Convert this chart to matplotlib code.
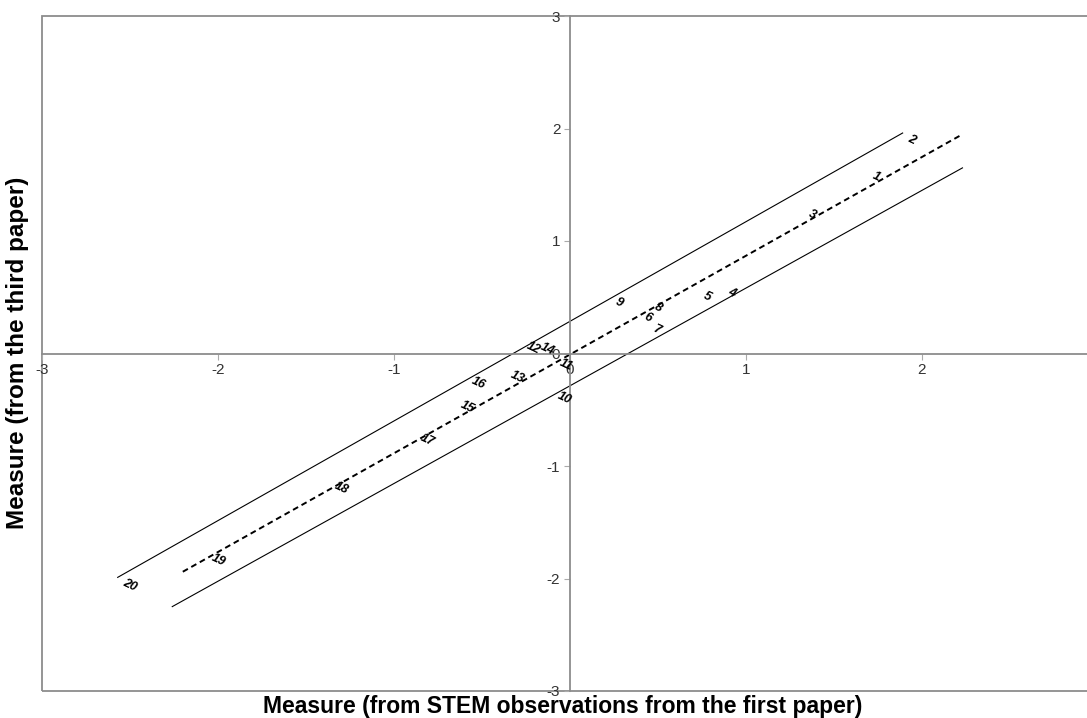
import numpy as np
import matplotlib
matplotlib.use("Agg")
import matplotlib.pyplot as plt
from matplotlib.patches import Rectangle

# item measures: x = first paper (STEM observations), y = third paper
item_ids = [str(i) for i in range(1, 21)]
x_first = [1.74, 1.94, 1.375, 0.92, 0.78, 0.44, 0.49, 0.50, 0.28, -0.03,
           -0.02, -0.21, -0.30, -0.13, -0.585, -0.52, -0.81, -1.30, -2.0, -2.5]
y_third = [1.57, 1.90, 1.23, 0.54, 0.50, 0.32, 0.21, 0.41, 0.45, -0.40,
           -0.10, 0.05, -0.21, 0.04, -0.48, -0.26, -0.77, -1.20, -1.84, -2.06]

# identity (dashed) and control lines
ident_x = [-2.2, 2.22]
ident_y = [-1.94, 1.94]
upper_x = [-2.57, 1.89]
upper_y = [-1.99, 1.96]
lower_x = [-2.26, 2.23]
lower_y = [-2.25, 1.65]

ticks = [-3, -2, -1, 0, 1, 2, 3]
xtick_labels = ["-3", "-2", "-1", "0", "1", "2", ""]   # 3 falls off the picture
ytick_labels = ["-3", "-2", "-1", "0", "1", "2", "3"]

plt.rcParams['font.family'] = ['Liberation Sans', 'DejaVu Sans']

fig = plt.figure(figsize=(10.87, 7.18), dpi=100)
ax = fig.add_axes([42/1087, 27/718, 1056/1087, 675/718])

ax.plot(upper_x, upper_y, color="black", lw=0.8)
ax.plot(lower_x, lower_y, color="black", lw=0.8)
ax.plot(ident_x, ident_y, color="black", lw=1.4, ls=(0, (3, 2)))

for lab, x, y in zip(item_ids, x_first, y_third):
    ax.text(x, y, lab, ha="center", va="center", rotation=-25,
            fontsize=9, fontweight="bold", fontstyle="italic")

ax.set_xlim(-3, 3)
ax.set_ylim(-3, 3)

# axes crossing at origin
grey = "#8c8c8c"
ax.spines["left"].set_position(("data", 0))
ax.spines["bottom"].set_position(("data", 0))
ax.spines["right"].set_visible(False)
ax.spines["top"].set_visible(False)
for s in ["left", "bottom"]:
    ax.spines[s].set_color(grey)
    ax.spines[s].set_linewidth(1.3)
ax.add_patch(Rectangle((0, 0), 1, 1, transform=ax.transAxes, fill=False,
                       ec=grey, lw=1.3, clip_on=False))

ax.set_xticks(ticks)
ax.set_yticks(ticks)
ax.set_xticklabels(xtick_labels)
ax.set_yticklabels(ytick_labels)
ax.tick_params(axis="both", direction="out", length=4, color="#aaaaaa",
               labelsize=11, labelcolor="#333333", pad=3)

fig.text(563/1087, 1 - 706/718, "Measure (from STEM observations from the first paper)",
         ha="center", va="center", fontsize=16.5, fontweight="bold")
fig.text(18/1087, 1 - 353/718, "Measure (from the third paper)",
         ha="center", va="center", rotation=90, fontsize=17.5, fontweight="bold")

fig.savefig("out.png", dpi=100)
